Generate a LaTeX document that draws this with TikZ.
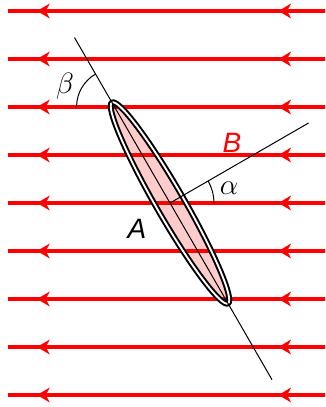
\RequirePackage{fix-cm}
\documentclass[tikz,border=0pt]{standalone}
\usepackage{fontspec}
\setsansfont{Liberation Sans}
\usepackage{tikz}
\usetikzlibrary{arrows.meta, decorations.markings, calc}

\begin{document}
\begin{tikzpicture}[
		x=0.75pt, y=0.75pt,
		fieldline/.style={
				red, line width=3pt,
				decoration={markings,
						mark=at position 35pt with {\arrow{Stealth[length=9.5pt, width=11pt, inset=3pt]}},
						mark=at position 216pt with {\arrow{Stealth[length=9.5pt, width=11pt, inset=3pt]}}
					},
				postaction={decorate}
			},
		thinline/.style={black, line width=0.75pt},
		lbl/.style={font=\fontsize{21}{25}\selectfont\sffamily\itshape, inner sep=0pt},
		mlbl/.style={font=\fontsize{22}{26}\selectfont, inner sep=0pt}
	]
	\useasboundingbox (0,0) rectangle (325,407);

	\coordinate (O) at (170,204);
	\coordinate (top) at ($(O)+(120:191)$);
	\coordinate (bot) at ($(O)+(-60:204)$);
	\coordinate (Bend) at ($(O)+(30:160)$);
	\coordinate (V) at ($(O)+(120:110.9)$);

	% body
	\fill[red!20, rotate around={120:(O)}] (O) ellipse (116 and 14);

	% field lines
	\foreach \k in {0,...,8}
		\draw[fieldline] (325,{396-48*\k}) -- (8,{396-48*\k});

	\draw[line width=1.5pt, double=white, double distance=1.4pt, rotate around={120:(O)}]
		(O) ellipse (116 and 14);

	\draw[thinline] (top) -- (bot);
	\draw[thinline] (O) -- (Bend);

	% angles
	\draw[thinline] ($(O)+(0:44)$) arc[start angle=0, end angle=30, radius=44];
	\draw[thinline] ($(V)+(120:38)$) arc[start angle=120, end angle=180, radius=38];

	\node[mlbl] (alpha) at (229,219) {$\alpha$};
	\node[mlbl] (beta) at (65,321) {$\beta$};
	\node[lbl] (A) at (137,178) {A};
	\node[lbl, text=red] (B) at (232,264) {B};
\end{tikzpicture}
\end{document}
